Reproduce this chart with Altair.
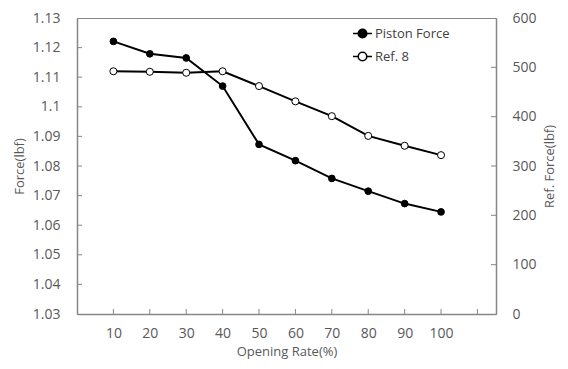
import altair as alt
import pandas as pd

# ---- data ----
opening = [10, 20, 30, 40, 50, 60, 70, 80, 90, 100]
piston_force = [1.1221, 1.1179, 1.1165, 1.1070, 1.0873, 1.0818, 1.0758, 1.0715, 1.0673, 1.0645]
ref8_force = [492, 491, 489, 492, 462, 431, 401, 361, 341, 322]
series_names = ["Piston Force", "Ref. 8"]
x_tick_values = [10, 20, 30, 40, 50, 60, 70, 80, 90, 100, 110]
left_tick_values = [1.03, 1.04, 1.05, 1.06, 1.07, 1.08, 1.09, 1.10, 1.11, 1.12, 1.13]
right_tick_values = [0, 100, 200, 300, 400, 500, 600]

W, H = 419, 296
FONT = "Open Sans"
TXT = "#595959"
AX = "#868686"

df_p = pd.DataFrame({"x": opening, "y": piston_force, "s": series_names[0]})
df_r = pd.DataFrame({"x": opening, "y": ref8_force, "s": series_names[1]})
df_xt = pd.DataFrame({"x": x_tick_values})
df_lt = pd.DataFrame({"y": left_tick_values[1:-1]})
df_rt = pd.DataFrame({"y": right_tick_values[1:-1]})

xscale = alt.Scale(domain=[0, 115.1], nice=False, zero=False)
ylscale = alt.Scale(domain=[1.03, 1.13], nice=False, zero=False)
yrscale = alt.Scale(domain=[0, 600], nice=False)
fscale = alt.Scale(domain=series_names, range=["black", "white"])

xaxis = alt.Axis(values=x_tick_values, title="Opening Rate(%)", tickSize=0,
                 labelExpr="datum.value > 100 ? '' : datum.label",
                 labelPadding=12, titlePadding=5, grid=False)
ylaxis = alt.Axis(values=left_tick_values, title="Force(lbf)", tickSize=0, format=".2~f",
                  labelPadding=17, titlePadding=6, grid=False)
yraxis = alt.Axis(values=right_tick_values, title="Ref. Force(lbf)", orient="right", tickSize=0,
                  labelPadding=16, titlePadding=20, grid=False, titleAngle=270)

X = alt.X("x:Q", scale=xscale, axis=xaxis)

p_line = alt.Chart(df_p).mark_line(color="black", strokeWidth=2).encode(
    x=X, y=alt.Y("y:Q", scale=ylscale, axis=ylaxis))
p_pts = alt.Chart(df_p).mark_point(filled=True, shape="circle", size=45, stroke="black",
                                   strokeWidth=1, opacity=1).encode(
    x=X, y=alt.Y("y:Q", scale=ylscale, axis=ylaxis),
    fill=alt.Fill("s:N", scale=fscale, legend=alt.Legend(
        title=None, orient="none", legendX=275, legendY=5, padding=0,
        symbolType="M-1,0H-0.45M0.45,0H1M0.45,0A0.45,0.45 0 1,1 -0.45,0A0.45,0.45 0 1,1 0.45,0Z",
        symbolSize=361, symbolStrokeColor="black", symbolStrokeWidth=1.6,
        labelFont=FONT, labelFontSize=13, labelColor="#404040", labelOffset=2, rowPadding=5)))
x_ticks = alt.Chart(df_xt).mark_rule(color=AX, strokeWidth=1).encode(
    x=X, y=alt.value(H - 5), y2=alt.value(H))
l_ticks = alt.Chart(df_lt).mark_rule(color=AX, strokeWidth=1).encode(
    y=alt.Y("y:Q", scale=ylscale, axis=ylaxis), x=alt.value(0), x2=alt.value(5))

r_line = alt.Chart(df_r).mark_line(color="black", strokeWidth=2).encode(
    x=X, y=alt.Y("y:Q", scale=yrscale, axis=yraxis))
r_pts = alt.Chart(df_r).mark_point(filled=True, shape="circle", size=50, stroke="black",
                                   strokeWidth=1, opacity=1).encode(
    x=X, y=alt.Y("y:Q", scale=yrscale, axis=yraxis),
    fill=alt.Fill("s:N", scale=fscale))
r_ticks = alt.Chart(df_rt).mark_rule(color=AX, strokeWidth=1).encode(
    y=alt.Y("y:Q", scale=yrscale, axis=yraxis), x=alt.value(W - 5), x2=alt.value(W))

left = alt.layer(x_ticks, l_ticks, p_line, p_pts)
right = alt.layer(r_ticks, r_line, r_pts)

chart = alt.layer(left, right).resolve_scale(y="independent").properties(
    width=W, height=H,
    background="white",
    autosize=alt.AutoSizeParams(type="none"),
    padding={"left": 69, "top": 10, "right": 64, "bottom": 47},
).configure_view(stroke=AX, strokeWidth=1).configure_axis(
    labelFont=FONT, labelFontSize=14, labelColor=TXT,
    titleFont=FONT, titleFontSize=13, titleFontWeight="normal", titleColor=TXT,
    domainColor=AX, domainWidth=1.5,
)

chart.save("out.html", embed_options={"renderer": "svg", "actions": False})
